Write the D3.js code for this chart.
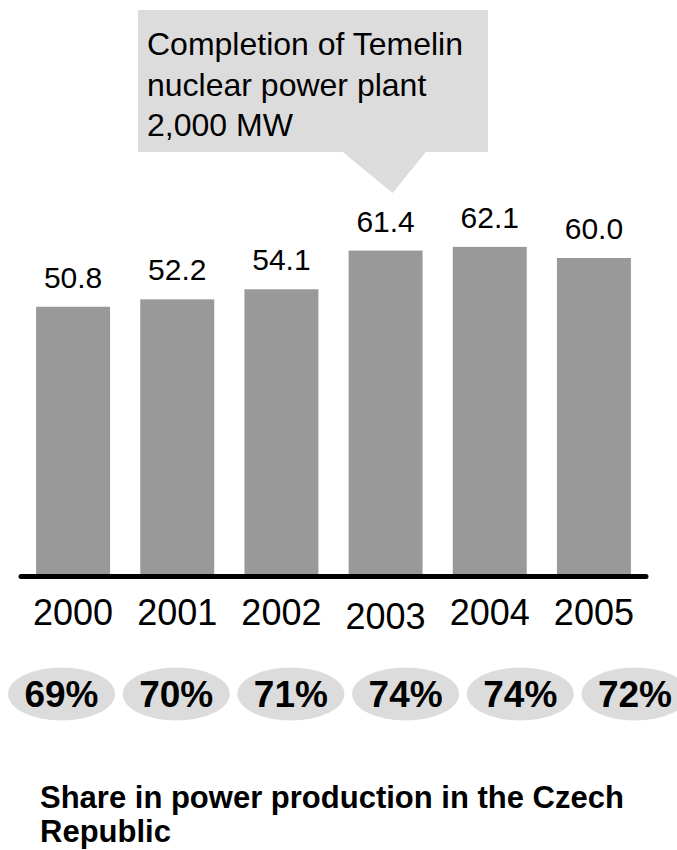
<!DOCTYPE html>
<html>
<head>
<meta charset="utf-8">
<script src="https://cdn.jsdelivr.net/npm/d3@7"></script>
<style>
  html, body { margin: 0; padding: 0; background: #fff; }
  svg { display: block; font-family: "Liberation Sans", Arial, sans-serif; }
</style>
</head>
<body>
<div id="chart"></div>
<script>
const years = ["2000", "2001", "2002", "2003", "2004", "2005"];
const production = [50.8, 52.2, 54.1, 61.4, 62.1, 60.0];
const shares = ["69%", "70%", "71%", "74%", "74%", "72%"];
const calloutLines = ["Completion of Temelin", "nuclear power plant", "2,000 MW"];
const calloutYear = "2003";
const footerLines = ["Share in power production in the Czech", "Republic"];

const W = 677, H = 850;
const svg = d3.select("#chart").append("svg").attr("width", W).attr("height", H);

const x = d3.scaleBand().domain(years).range([21, 646]).paddingInner(0.29).paddingOuter(0.145);
const y = d3.scaleLinear().domain([0, 70]).range([576, 576 - 70 * 5.3]);
const xs = d3.scalePoint().domain(years).range([61.5, 635]);

// Callout
const cg = svg.append("g");
const cx = x(calloutYear) + x.bandwidth() / 2;
cg.append("rect").attr("x", 138).attr("y", 10).attr("width", 350).attr("height", 142).attr("fill", "#dcdcdc");
cg.append("path")
  .attr("d", `M${cx - 44},151 L${cx + 41},151 L${cx + 7},193 Z`)
  .attr("fill", "#dcdcdc");
cg.selectAll("text").data(calloutLines).join("text")
  .attr("x", 147).attr("y", (d, i) => 55 + i * 40.5)
  .attr("font-size", 32).attr("fill", "#000").text(d => d);

// Bars
svg.selectAll("rect.bar").data(production).join("rect")
  .attr("class", "bar")
  .attr("x", (d, i) => x(years[i]))
  .attr("width", x.bandwidth())
  .attr("y", d => y(d))
  .attr("height", d => y(0) - y(d))
  .attr("fill", "#999999");

// Value labels
svg.selectAll("text.val").data(production).join("text")
  .attr("class", "val")
  .attr("x", (d, i) => x(years[i]) + x.bandwidth() / 2)
  .attr("y", d => y(d) - 19)
  .attr("text-anchor", "middle")
  .attr("font-size", 30).attr("fill", "#000")
  .text(d => d.toFixed(1));

// Axis baseline
svg.append("line")
  .attr("x1", x.range()[0]).attr("x2", x.range()[1])
  .attr("y1", y(0) + 0.5).attr("y2", y(0) + 0.5)
  .attr("stroke", "#000").attr("stroke-width", 5).attr("stroke-linecap", "round");

// Year labels via axis
const ax = svg.append("g").attr("transform", `translate(0,${y(0)})`)
  .call(d3.axisBottom(x).tickSize(0).tickPadding(0));
ax.select(".domain").remove();
ax.selectAll("text")
  .attr("font-size", 36).attr("font-family", "Liberation Sans, Arial, sans-serif")
  .attr("fill", "#000")
  .attr("dy", null)
  .attr("y", d => d === calloutYear ? 53 : 49);

// Share ellipses
const sg = svg.selectAll("g.share").data(shares).join("g")
  .attr("class", "share")
  .attr("transform", (d, i) => `translate(${xs(years[i])},694)`);
sg.append("ellipse").attr("rx", 53.5).attr("ry", 26.5).attr("fill", "#dcdcdc");
sg.append("text").attr("y", 13).attr("text-anchor", "middle")
  .attr("font-size", 37).attr("font-weight", "bold").attr("fill", "#000")
  .text(d => d);

// Footer
svg.selectAll("text.footer").data(footerLines).join("text")
  .attr("class", "footer")
  .attr("x", 40).attr("y", (d, i) => 808 + i * 34)
  .attr("font-size", 31).attr("font-weight", "bold").attr("fill", "#000")
  .text(d => d);
</script>
</body>
</html>
